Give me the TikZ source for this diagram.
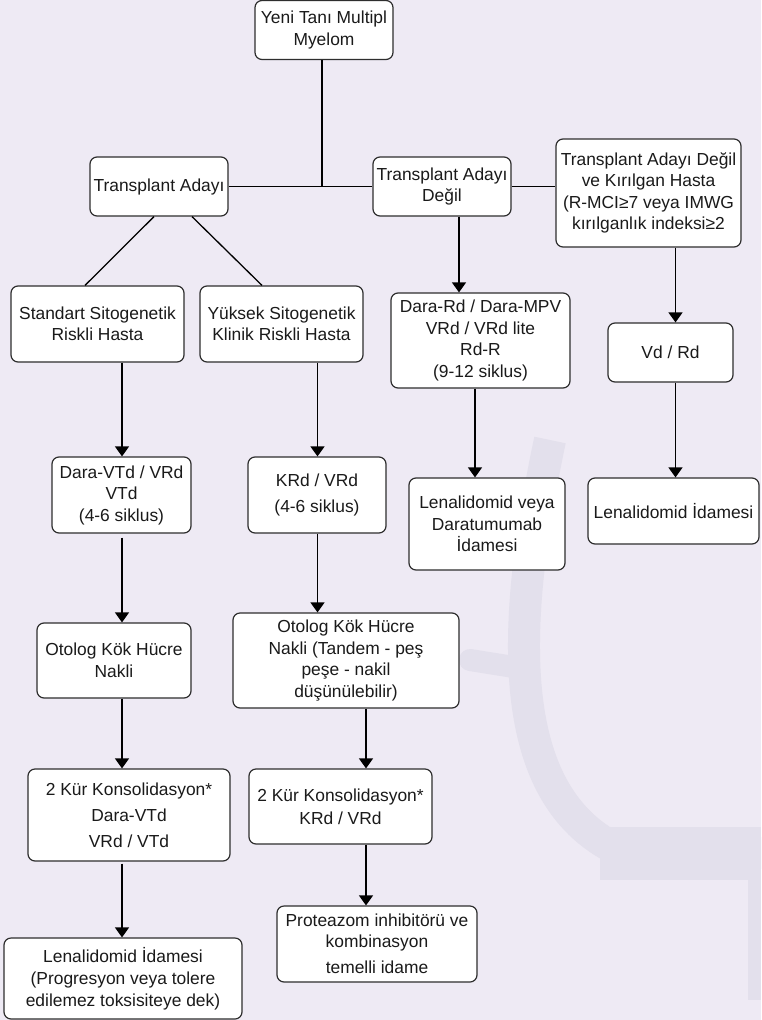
\documentclass[tikz,border=0pt]{standalone}
\usepackage{fontspec}
\setmainfont{Liberation Sans}
\usetikzlibrary{arrows.meta}
\definecolor{bgc}{HTML}{EEEAF4}
\definecolor{wmc}{HTML}{E3E0EC}
\definecolor{txt}{HTML}{1A1A1A}
\definecolor{bord}{HTML}{2E2E2E}
\begin{document}
\begin{tikzpicture}[x=1pt,y=-1pt,
  box/.style={draw=bord, line width=1.2pt, rounded corners=7pt, fill=white,
    align=center, inner sep=0pt, text=txt,
    font=\fontsize{17.4}{21.5}\selectfont},
  conn/.style={line width=1.3pt, draw=black},
  arr/.style={conn, -{Triangle[width=14pt,length=10pt]}}]
% background and faint watermark
\fill[bgc] (0,0) rectangle (761,1020);
\useasboundingbox (0,0) rectangle (761,1020);
\draw[wmc, line width=32pt] (550,440) .. controls (512,620) and (500,800) .. (625,853) -- (761,853);
\fill[wmc] (600,827) rectangle (761,880);
\fill[wmc] (748,880) rectangle (761,1000);
\draw[wmc, line width=22pt, line cap=round] (470,660) -- (520,668);

% nodes
\node[box, minimum width=138pt, minimum height=59pt] (top) at (324,30) {Yeni Tanı Multipl\\Myelom};
\node[box, minimum width=138pt, minimum height=59pt] (ta) at (159,186.5) {Transplant Adayı};
\node[box, minimum width=138pt, minimum height=59pt] (tad) at (442,186.5) {Transplant Adayı\\Değil};
\node[box, minimum width=185pt, minimum height=108pt] (frail) at (648.5,193) {Transplant Adayı Değil\\ve Kırılgan Hasta\\(R-MCI≥7 veya IMWG\\kırılganlık indeksi≥2};
\node[box, minimum width=173pt, minimum height=76pt] (std) at (97.5,324) {Standart Sitogenetik\\Riskli Hasta};
\node[box, minimum width=163pt, minimum height=76pt] (yuk) at (281.5,324) {Yüksek Sitogenetik\\Klinik Riskli Hasta};
\node[box, minimum width=179pt, minimum height=95pt] (dararD) at (480.5,340.5) {Dara-Rd / Dara-MPV\\VRd / VRd lite\\Rd-R\\(9-12 siklus)};
\node[box, minimum width=125pt, minimum height=59pt] (vdrd) at (670.5,352.5) {Vd / Rd};
\node[box, minimum width=139pt, minimum height=76pt] (daravtd) at (121.5,495) {Dara-VTd / VRd\\VTd\\(4-6 siklus)};
\node[box, minimum width=138pt, minimum height=76pt] (krd) at (317,495) {KRd / VRd\\[4.5pt](4-6 siklus)};
\node[box, minimum width=156pt, minimum height=92pt] (lenadara) at (487,524) {Lenalidomid veya\\Daratumumab\\İdamesi};
\node[box, minimum width=171pt, minimum height=66pt] (lenaid) at (673.5,511) {Lenalidomid İdamesi};
\node[box, minimum width=154pt, minimum height=75pt] (otolog) at (114,660.5) {Otolog Kök Hücre\\Nakli};
\node[box, minimum width=226pt, minimum height=95pt] (otologT) at (346,660.5) {Otolog Kök Hücre\\Nakli (Tandem - peş\\peşe - nakil\\düşünülebilir)};
\node[box, minimum width=202pt, minimum height=92pt] (kur1) at (129,815) {2 Kür Konsolidasyon*\\[4.5pt]Dara-VTd\\[4.5pt]VRd / VTd};
\node[box, minimum width=183pt, minimum height=75pt] (kur2) at (340.5,806.5) {2 Kür Konsolidasyon*\\[1.5pt]KRd / VRd};
\node[box, minimum width=238pt, minimum height=81pt] (lenaprog) at (123,978.5) {Lenalidomid İdamesi\\[0.5pt](Progresyon veya tolere\\[0.5pt]edilemez toksisiteye dek)};
\node[box, minimum width=200pt, minimum height=76pt] (prot) at (377,944) {Proteazom inhibitörü ve\\kombinasyon\\[4.5pt]temelli idame};

% connector columns
\coordinate (J) at (322,186.5);
\coordinate (cA) at (122,0);
\coordinate (cB) at (317.5,0);
\coordinate (cC) at (459,0);
\coordinate (cD) at (475,0);
\coordinate (cE) at (675.5,0);
\coordinate (cF) at (366,0);

% connectors
\draw[conn] (top.south -| J) -- (J);
\draw[conn] (ta.east) -- (tad.west);
\draw[conn] (tad.east) -- (frail.west |- tad.east);
\draw[conn] ([xshift=-5pt]ta.south) -- ([xshift=-12.5pt]std.north);
\draw[conn] ([xshift=33pt]ta.south) -- ([xshift=-19.5pt]yuk.north);
\draw[arr] (tad.south -| cC) -- (dararD.north -| cC);
\draw[arr] (frail.south -| cE) -- (vdrd.north -| cE);
\draw[arr] (std.south -| cA) -- (daravtd.north -| cA);
\draw[arr] (yuk.south -| cB) -- (krd.north -| cB);
\draw[arr] (dararD.south -| cD) -- (lenadara.north -| cD);
\draw[arr] (vdrd.south -| cE) -- (lenaid.north -| cE);
\draw[arr, shorten <=4pt] (daravtd.south -| cA) -- (otolog.north -| cA);
\draw[arr] (krd.south -| cB) -- (otologT.north -| cB);
\draw[arr] (otolog.south -| cA) -- (kur1.north -| cA);
\draw[arr] (otologT.south -| cF) -- (kur2.north -| cF);
\draw[arr, shorten <=2pt] (kur1.south -| cA) -- (lenaprog.north -| cA);
\draw[arr] (kur2.south -| cF) -- (prot.north -| cF);
\end{tikzpicture}
\end{document}
